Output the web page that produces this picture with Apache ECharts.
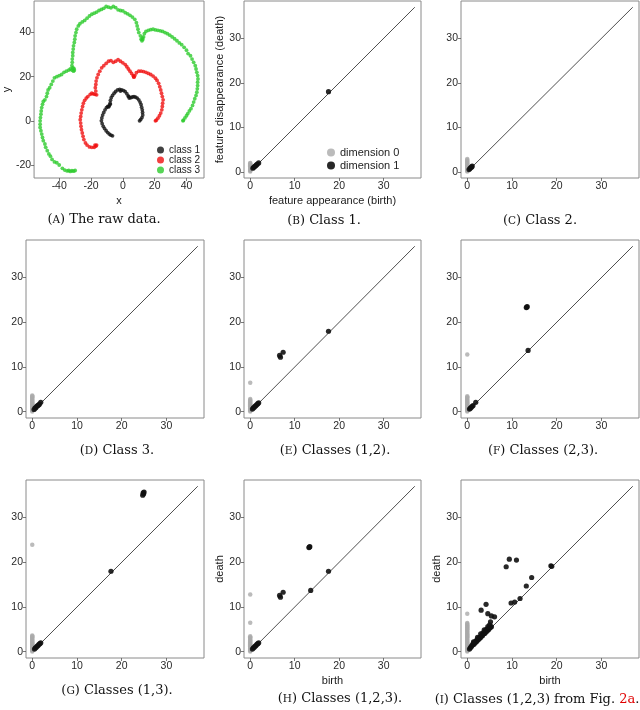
<!DOCTYPE html>
<html><head><meta charset="utf-8">
<script src="https://cdn.jsdelivr.net/npm/echarts@6/dist/echarts.min.js"></script>
<style>html,body{margin:0;padding:0;background:#fff}#c{width:640px;height:710px}</style>
</head><body><div id="c"></div>
<script>
// ---------- DATA ----------
const class1 = [[-7.5,-6.5],[-8.5,-6],[-9.5,-5.3],[-10.5,-4.5],[-11.5,-3.5],[-12.3,-2.5],[-13,-1.3],[-13.5,0],[-13.2,1.3],[-12.7,2.6],[-12,3.8],[-11.2,5],[-10.3,6],[-9.5,6.5],[-8.5,6.8],[-8,8],[-7.8,9.3],[-7.3,10.5],[-6.5,11.5],[-5.5,12.5],[-4.5,13.3],[-3.3,14],[-2,14.2],[-0.7,14],[0.5,13.7],[1.5,13.2],[2.5,12.3],[3.3,11.3],[4,10.3],[5,10.5],[6,10.8],[7,11],[8,10.7],[9,10.3],[10,9.5],[10.8,8.5],[11.4,7.4],[11.8,6.2],[12.2,5],[12.4,3.8],[12.5,2.6],[12,1.5],[11.2,0.6],[10.5,0],[-8,7.5],[-9,6.3],[-6.5,-6.8],[3.8,11],[-1.5,13.5]];
const class2 = [[-16.5,-11],[-17,-11.5],[-18,-12],[-19.5,-12],[-21,-11.8],[-22.5,-11],[-23.5,-10],[-24.5,-8.5],[-25,-7],[-25.5,-5.5],[-26,-4],[-26.3,-2.5],[-26.5,-1],[-26.8,0.5],[-26.5,2],[-26.2,3.5],[-25.8,5],[-25.3,6.5],[-24.8,8],[-24,9.3],[-23,10.3],[-22,11],[-20.5,12],[-19.5,12.5],[-18.5,12.2],[-17.5,12],[-16.5,11.8],[-17,13.5],[-17.3,15],[-17,16.5],[-16.8,18],[-16.3,19.5],[-15.5,21],[-14.5,22.5],[-13.3,24],[-12,25],[-10.5,26],[-9,27],[-7.5,27.3],[-6,26.5],[-4.5,27],[-3,27.7],[-1.5,27],[0,26.3],[1.5,25.5],[2.5,24.5],[3.5,23.5],[4.5,22.5],[5.5,21.5],[6.5,20.5],[7,19.8],[7.5,20.5],[8.5,21.8],[10,22.5],[11.5,22.5],[13,22.3],[14.5,22],[16,21.5],[17.5,21],[19,20.3],[20.5,19.3],[21.5,18.3],[22.5,17],[23.2,15.5],[23.8,14],[24.3,12.5],[24.8,11],[25.3,9.5],[25,8],[24.8,6.5],[24.5,5],[23.8,3.5],[23,2.3],[22,1.2],[21,0.3],[20.5,0],[-17.5,-11],[6.8,20]];
const class3 = [[-30,-22.5],[-31,-22.8],[-32,-22.6],[-33,-22.9],[-34,-22.5],[-35,-22.7],[-36.5,-22.3],[-38,-21.5],[-40,-20],[-41.5,-19],[-43,-18.6],[-44.5,-17.5],[-45.5,-16],[-46.5,-15],[-47.5,-13.5],[-48.5,-12],[-49,-10.5],[-50,-9],[-50.5,-7.5],[-51,-6],[-51.5,-4.5],[-52,-3],[-52,-1.5],[-52,0],[-51.8,1.5],[-51.5,3],[-51.3,4.5],[-51,6],[-50.5,7.5],[-50,8.8],[-49,9.5],[-48,11],[-47.5,12.5],[-47,14],[-46,15],[-45,16.5],[-44,18],[-43,19.5],[-41.5,20],[-40,20.5],[-38.5,21],[-37,22],[-35.5,22.5],[-34,23],[-33,23.5],[-32,23],[-31,22.5],[-30.5,23],[-31.5,24],[-32,25],[-31.8,26.5],[-31.8,28],[-31.5,29.5],[-31.5,31],[-31.2,32.5],[-31,34],[-30.5,35.5],[-30.2,37],[-30,38.5],[-29.5,40],[-29,41.5],[-28,43],[-27,44],[-25.5,44.8],[-24,45.5],[-22.5,46.5],[-21,47.5],[-19.5,48.3],[-18,48.8],[-16.5,49.3],[-15,50],[-13.5,50.5],[-12,51],[-10.5,51.8],[-9,51.5],[-7.5,51.2],[-6,51.8],[-4.5,51.3],[-3,50.3],[-1.5,50],[0,49.8],[1.5,49],[3,48.5],[4.5,47.8],[6,47],[7.5,46],[8.5,44.5],[9,43],[9.5,41.5],[10,40],[11,38.5],[11.5,37],[12,36.3],[12.5,36.8],[13,38],[13.5,39.5],[14.5,40.5],[16,41],[17.5,41.3],[19,41.5],[20.5,41.2],[22,41],[23.5,40.8],[25,40.5],[26.5,40],[28,39.5],[29.5,38.8],[31,38],[32.5,37.2],[34,36.3],[35.5,35.3],[37,34.5],[38.5,33.3],[40,32],[41,30.5],[42.5,29.5],[43.5,28],[44.5,26.5],[45.5,25],[46,23.5],[46.5,22],[47,20.5],[47.2,19],[47,17.5],[47,16],[46.8,14.5],[46.5,13],[46,11.5],[45.2,10],[44.5,8.5],[43.8,7],[42.8,5.5],[41.8,4.5],[40.8,3.3],[40,2.3],[39,1.3],[38,0.3],[37.8,0],[12.3,37.5],[-30.8,23.8]];

const ticksAx = [-40,-20,0,20,40];
const ticksAy = [-20,0,20,40];
const pdTicks = [0,10,20,30];
const diagonal = [[0,0],[37,37]];

const B_dim0 = [0.05,0.25,0.45,0.65,0.85,1.05,1.25,1.45,1.65,1.85,1.95];
const B_dim1 = [[0.6,0.8],[0.8,1.0],[1.0,1.2],[1.2,1.35],[1.4,1.55],[1.6,1.75],[1.9,2.0],[17.6,18.0]];
const C_dim0 = [0.05,0.25,0.45,0.65,0.85,1.05,1.25,1.45,1.65,1.85,2.05,2.25,2.45,2.65,2.85];
const C_dim1 = [[0.4,0.5],[0.6,0.75],[0.8,0.95],[1.0,1.1],[1.1,1.3]];
const D_dim0 = [0.05,0.25,0.45,0.65,0.85,1.05,1.25,1.45,1.65,1.85,2.05,2.25,2.45,2.65,2.85,3.05,3.25,3.45,3.65];
const D_dim1 = [[0.4,0.5],[0.6,0.8],[0.8,0.9],[1.0,1.2],[1.2,1.35],[1.4,1.5],[1.6,1.7],[1.9,2.1]];
const E_dim0 = [0.05,0.25,0.45,0.65,0.85,1.05,1.25,1.45,1.65,1.85,2.05,2.25,2.45,2.65,2.85,6.5];
const E_dim1 = [[0.5,0.6],[0.7,0.85],[0.9,1.0],[1.1,1.25],[1.3,1.4],[1.5,1.6],[1.7,1.8],[1.9,2.0],[6.6,12.6],[6.8,12.2],[7.4,13.3],[17.6,18.0]];
const F_dim0 = [0.05,0.25,0.45,0.65,0.85,1.05,1.25,1.45,1.65,1.85,2.05,2.25,2.45,2.65,2.85,3.05,3.25,3.45,12.8];
const F_dim1 = [[0.5,0.6],[0.7,0.8],[0.9,1.0],[1.1,1.2],[1.3,1.4],[1.9,2.1],[13.2,23.3],[13.4,23.5],[13.3,23.4],[13.6,13.7]];
const G_dim0 = [0.05,0.25,0.45,0.65,0.85,1.05,1.25,1.45,1.65,1.85,2.05,2.25,2.45,2.65,2.85,3.05,3.25,3.45,3.65,23.9];
const G_dim1 = [[0.5,0.6],[0.7,0.85],[0.9,1.0],[1.1,1.25],[1.3,1.4],[1.5,1.65],[1.7,1.8],[1.9,2.0],[17.6,18.0],[24.7,35.0],[24.9,35.3],[25.0,35.7],[24.8,35.5]];
const H_dim0 = [0.05,0.25,0.45,0.65,0.85,1.05,1.25,1.45,1.65,1.85,2.05,2.25,2.45,2.65,2.85,3.05,3.25,3.45,6.5,12.8];
const H_dim1 = [[0.5,0.6],[0.7,0.85],[0.9,1.0],[1.1,1.25],[1.3,1.4],[1.5,1.65],[1.7,1.8],[1.9,2.0],[6.6,12.6],[6.8,12.2],[7.4,13.3],[13.2,23.3],[13.4,23.5],[13.3,23.4],[13.6,13.7],[17.6,18.0]];
const I_dim0 = [0.05,0.25,0.45,0.65,0.85,1.05,1.25,1.45,1.65,1.85,2.05,2.25,2.45,2.65,2.85,3.05,3.25,3.45,3.65,3.85,4.05,4.25,4.45,4.65,4.85,5.05,5.25,5.45,5.65,5.85,6.05,6.25,6.45,8.5];
const I_dim1 = [[0.5,0.6],[0.7,0.9],[0.9,1.1],[1.0,1.4],[1.2,1.5],[1.3,1.8],[1.5,1.7],[1.6,2.1],[1.8,2.0],[1.9,2.4],[2.1,2.3],[2.2,2.7],[2.4,2.6],[2.5,3.0],[2.7,2.9],[2.8,3.3],[3.0,3.2],[3.0,4.0],[3.2,3.6],[3.4,3.6],[3.5,4.2],[3.7,4.0],[3.9,4.1],[4.0,4.7],[4.2,4.4],[4.3,5.0],[4.5,4.7],[4.6,5.2],[4.8,5.0],[5.0,5.3],[5.2,5.5],[5.4,5.6],[5.0,6.0],[5.2,6.7],[4.6,5.6],[3.8,4.9],[2.3,3.2],[1.4,2.2],[3.1,9.3],[4.2,10.6],[4.6,8.5],[5.4,8.0],[6.1,7.8],[9.8,10.9],[10.6,11.1],[11.8,11.9],[13.2,14.7],[14.4,16.6],[8.7,19.0],[9.4,20.7],[11.0,20.5],[18.7,19.2],[18.9,19.1]];

const panels = [
  {dim0:B_dim0, dim1:B_dim1, xName:'feature appearance (birth)', yName:'feature disappearance (death)'},
  {dim0:C_dim0, dim1:C_dim1, xName:'', yName:''},
  {dim0:D_dim0, dim1:D_dim1, xName:'', yName:''},
  {dim0:E_dim0, dim1:E_dim1, xName:'', yName:''},
  {dim0:F_dim0, dim1:F_dim1, xName:'', yName:''},
  {dim0:G_dim0, dim1:G_dim1, xName:'', yName:''},
  {dim0:H_dim0, dim1:H_dim1, xName:'birth', yName:'death'},
  {dim0:I_dim0, dim1:I_dim1, xName:'birth', yName:'death'}
];
const captions = [
  ['A','The raw data.'],['B','Class 1.'],['C','Class 2.'],
  ['D','Class 3.'],['E','Classes (1,2).'],['F','Classes (2,3).'],
  ['G','Classes (1,3).'],['H','Classes (1,2,3).'],['I','Classes (1,2,3) from Fig. ']
];

// ---------- LAYOUT ----------
const gridBoxes = [
  [26,1,178,177],[244,1,177,177],[461,1,178,177],
  [26,240,178,178],[244,240,177,178],[461,240,178,178],
  [26,480,178,178],[244,480,177,178],[461,480,178,178]
];
const capPos = [[104,220],[324,221],[540,221],[117,451],[335,451],[543,451],[117,691],[340,699],[537,700]];

const SANS = '"Liberation Sans", Arial, sans-serif';
const SERIF = '"DejaVu Serif", "Liberation Serif", serif';

function axis(idx, min, max, ticks, name, gap) {
  return {
    type:'value', gridIndex: idx, min, max,
    name, nameLocation:'middle', nameGap: gap,
    nameTextStyle:{fontFamily:SANS, fontSize:11, color:'#1a1a1a'},
    axisLine:{show:false, onZero:false},
    axisTick:{show:true, length:3, lineStyle:{color:'#555', width:0.8}, customValues: ticks},
    axisLabel:{fontFamily:SANS, fontSize:10.5, color:'#2a2a2a', margin:3, customValues: ticks},
    splitLine:{show:false}
  };
}

const grids = gridBoxes.map(b => ({left:b[0], top:b[1], width:b[2], height:b[3], show:true, borderColor:'#8a8a8a', borderWidth:1, backgroundColor:'#fff'}));
const xAxes = [axis(0,-55.8,51,ticksAx,'x',17)];
const yAxes = [axis(0,-25.9,54.3,ticksAy,'y',18)];
const series = [
  {type:'scatter', name:'class 1', xAxisIndex:0, yAxisIndex:0, data:class1, symbolSize:3.8, itemStyle:{color:'#111'}},
  {type:'scatter', name:'class 2', xAxisIndex:0, yAxisIndex:0, data:class2, symbolSize:3.8, itemStyle:{color:'#f01010'}},
  {type:'scatter', name:'class 3', xAxisIndex:0, yAxisIndex:0, data:class3, symbolSize:3.8, itemStyle:{color:'#2ccb2c'}}
];
panels.forEach((p,i) => {
  const gi = i+1;
  xAxes.push(axis(gi,-1.4,38.4,pdTicks,p.xName,17));
  yAxes.push(axis(gi,-1.4,38.4,pdTicks,p.yName,19));
  series.push({type:'line', xAxisIndex:gi, yAxisIndex:gi, data:diagonal, symbol:'none', silent:true,
    lineStyle:{color:'#222', width:0.8}, z:1});
  series.push({type:'scatter', name:'dimension 0', xAxisIndex:gi, yAxisIndex:gi,
    data:p.dim0.map(d=>[0,d]), symbolSize:4.5, itemStyle:{color:'#aaaaaa'}, z:2});
  series.push({type:'scatter', name:'dimension 1', xAxisIndex:gi, yAxisIndex:gi,
    data:p.dim1, symbolSize:5.2, itemStyle:{color:'#111', opacity:0.9}, z:3});
});

const graphics = captions.map((c,i) => ({
  type:'text', x:capPos[i][0], y:capPos[i][1],
  style:{
    text: '{n|(}{sc|'+c[0]+'}{n|) '+c[1]+'}' + (i===8 ? '{r|2a}{n|.}' : ''),
    align:'center', verticalAlign:'middle',
    rich:{
      n:{fontFamily:SERIF, fontSize:13, fill:'#111', color:'#111'},
      sc:{fontFamily:SERIF, fontSize:10.5, fill:'#111', color:'#111'},
      r:{fontFamily:SERIF, fontSize:13, fill:'#e00000', color:'#e00000'}
    }
  }
}));

const chart = echarts.init(document.getElementById('c'), null, {renderer:'canvas'});
chart.setOption({
  animation:false,
  backgroundColor:'#fff',
  grid: grids, xAxis: xAxes, yAxis: yAxes, series,
  legend:[
    {data:['class 1','class 2','class 3'], orient:'vertical', left:152, top:140, itemWidth:7, itemHeight:7, itemGap:0,
     icon:'circle', textStyle:{fontFamily:SANS, fontSize:10, color:'#222'}},
    {data:['dimension 0','dimension 1'], orient:'vertical', left:322, top:142, itemWidth:8, itemHeight:8, itemGap:2,
     icon:'circle', textStyle:{fontFamily:SANS, fontSize:11, color:'#222'}}
  ],
  graphic: graphics
});
</script></body></html>
